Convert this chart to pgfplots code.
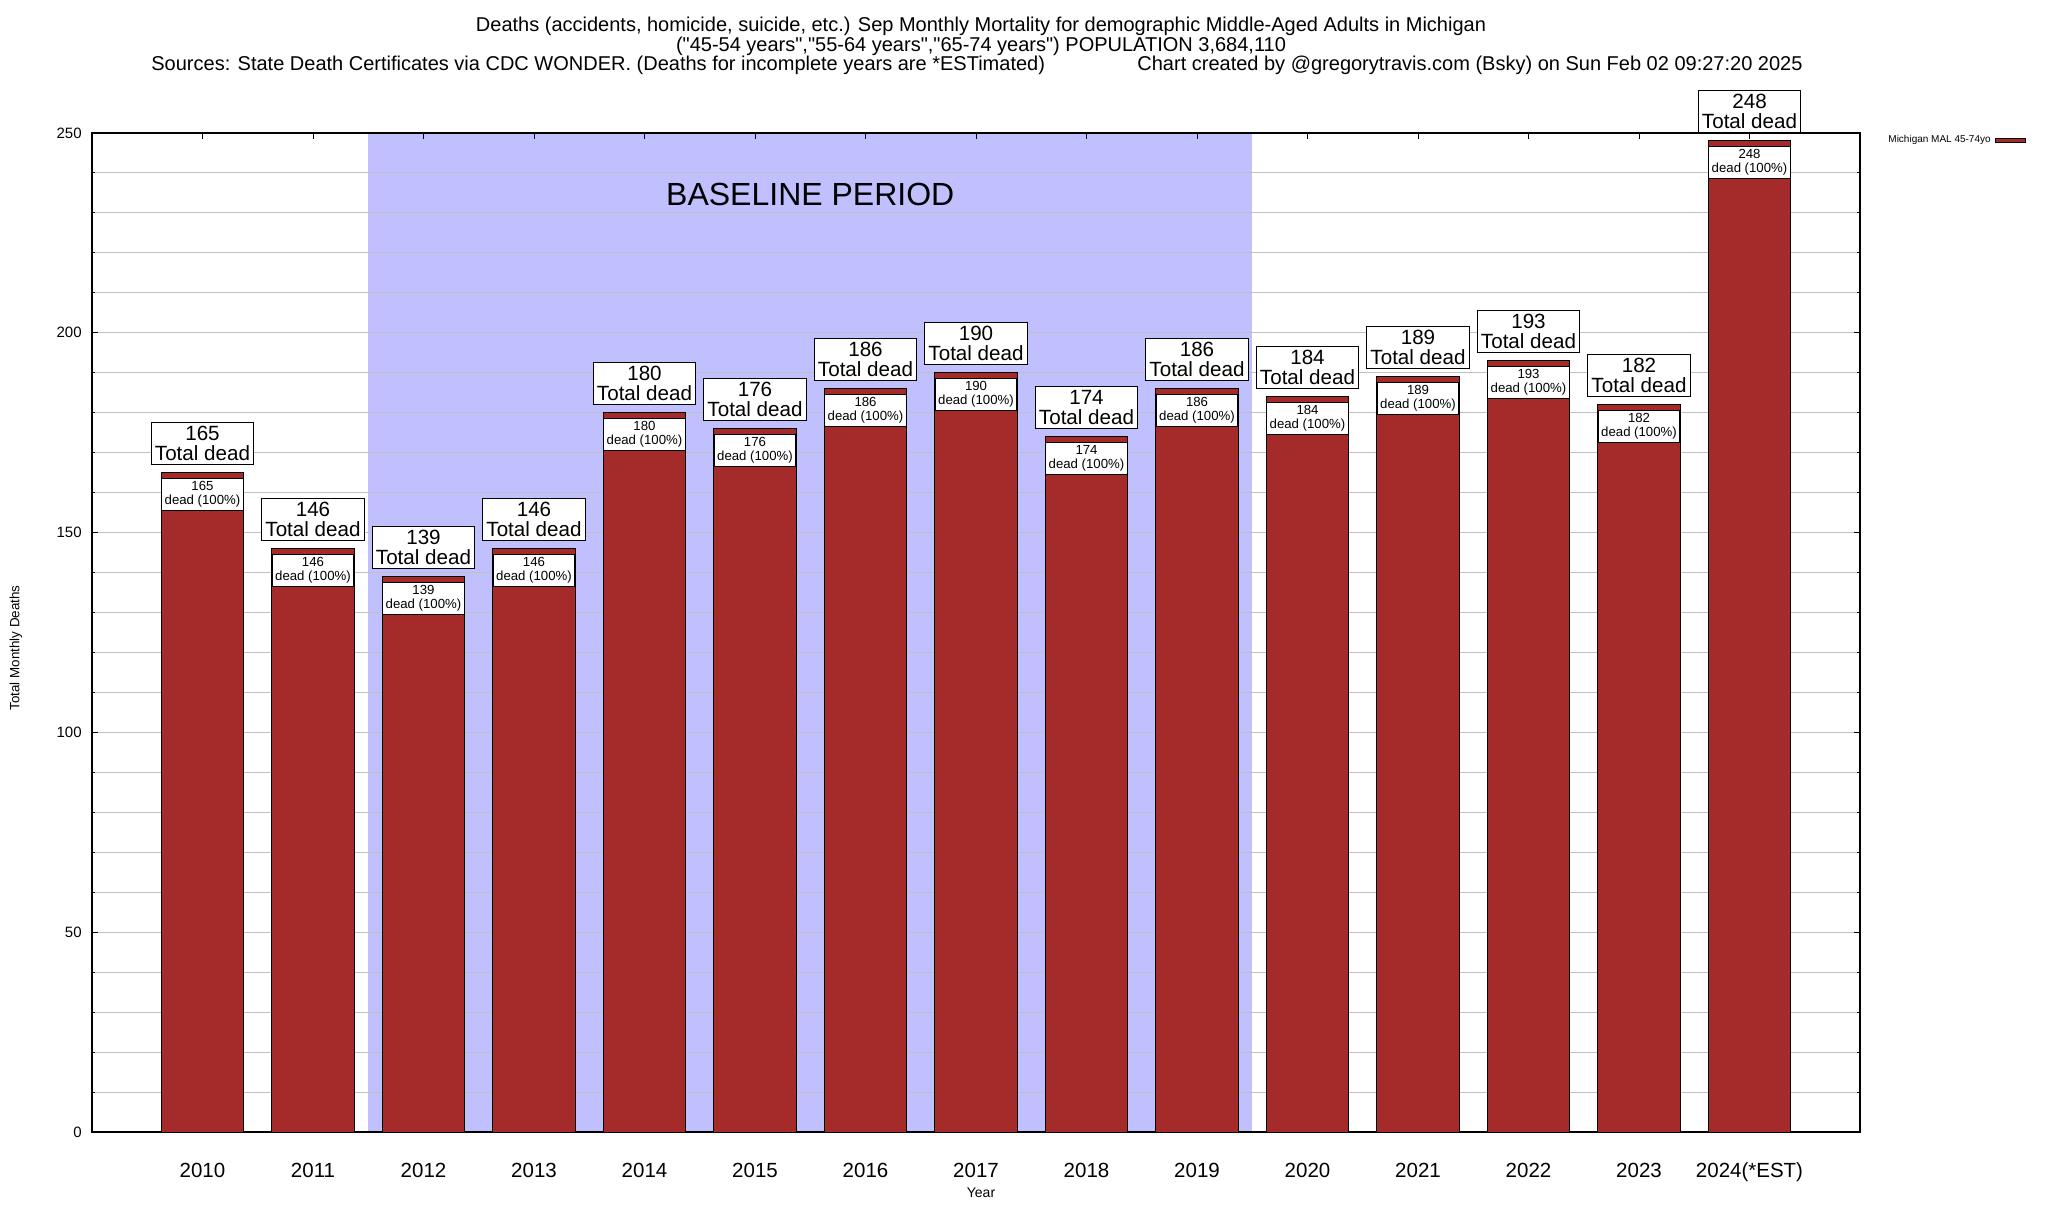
\documentclass[border=0pt]{standalone}
\usepackage{fontspec}
\setmainfont{Liberation Sans}
\usepackage{pgfplots}
\usepackage{pgfplotstable}
\pgfplotsset{compat=1.18}
\pgfkeys{/pgf/number format/assume math mode=true}
\definecolor{barred}{HTML}{A52A2A}
\definecolor{baseshade}{HTML}{C0C0FF}
\definecolor{gridgray}{HTML}{C0C0C0}

\pgfplotstableread{
x y
0 165
1 146
2 139
3 146
4 180
5 176
6 186
7 190
8 174
9 186
10 184
11 189
12 193
13 182
14 248
}\deaths

\begin{document}
\begin{tikzpicture}
\path (0,0) rectangle (1024pt,600pt);
\node[anchor=base, inner sep=0pt, font=\fontsize{10}{11}\selectfont] at (490.5pt,584pt) {Deaths (accidents, homicide, suicide, etc.) Sep Monthly Mortality for demographic Middle-Aged Adults in Michigan};
\node[anchor=base, inner sep=0pt, font=\fontsize{10}{11}\selectfont] at (490.5pt,574.25pt) {(\textquotedbl45-54 years\textquotedbl,\textquotedbl55-64 years\textquotedbl,\textquotedbl65-74 years\textquotedbl) POPULATION 3,684,110};
\node[anchor=base west, inner sep=0pt, font=\fontsize{10}{11}\selectfont] at (75.5pt,564.5pt) {Sources: State Death Certificates via CDC WONDER. (Deaths for incomplete years are *ESTimated)};
\node[anchor=base west, inner sep=0pt, font=\fontsize{10}{11}\selectfont] at (568.5pt,564.5pt) {Chart created by @gregorytravis.com (Bsky) on Sun Feb 02 09:27:20 2025};
\begin{axis}[
  at={(46pt,34pt)}, anchor=south west,
  scale only axis, width=884pt, height=499.5pt,
  set layers, clip=false,
  xmin=-1, xmax=15, ymin=0, ymax=250,
  xtick={0,...,14},
  xticklabels={2010,2011,2012,2013,2014,2015,2016,2017,2018,2019,2020,2021,2022,2023,2024(*EST)},
  ytick={0,50,...,250},
  minor ytick={10,20,...,240},
  ymajorgrids, yminorgrids,
  major grid style={gridgray, line width=0.5pt},
  minor grid style={gridgray, line width=0.5pt},
  tick align=inside, tick pos=both,
  major tick length=3pt, minor tick length=1.5pt,
  tick style={black, line width=0.5pt},
  axis line style={black, line width=0.6pt},
  xticklabel style={font=\fontsize{10.25}{12}\selectfont, anchor=base, yshift=-22.6pt, inner sep=0pt},
  yticklabel style={font=\fontsize{7.5}{9}\selectfont, anchor=east, inner sep=0pt, xshift=-5pt},
  legend style={draw=none, fill=none, at={(1,1)}, anchor=north west, xshift=12pt, yshift=1pt,
    font=\fontsize{5}{6}\selectfont, inner sep=0pt},
  legend plot pos=right,
  legend cell align=right,
]
\addplot[fill=baseshade, draw=none, on layer=axis background, forget plot] coordinates {(1.5,250) (9.5,250)} \closedcycle;
\addplot[ybar, bar width=0.75, bar shift=0pt, fill=barred, draw=black, line width=0.5pt,
  legend image code/.code={\draw[fill=barred, draw=black, line width=0.5pt] (0pt,-1pt) rectangle (15pt,1pt);}]
  table[x=x, y=y] {\deaths};
\addlegendentry{Michigan MAL 45-74yo}
\addplot[draw=none, mark=none, forget plot,
  nodes near coords={\pgfmathprintnumber{\pgfplotspointmeta}\\Total dead},
  every node near coord/.append style={anchor=south, yshift=4pt, draw=black, fill=white, line width=0.5pt,
    align=center, font=\fontsize{10.3}{10}\selectfont, inner sep=1.75pt}]
  table[x=x, y=y] {\deaths};
\addplot[draw=none, mark=none, forget plot,
  nodes near coords={\pgfmathprintnumber{\pgfplotspointmeta}\\dead (100\%)},
  every node near coord/.append style={anchor=north, yshift=-2.5pt, draw=black, fill=white, line width=0.5pt,
    align=center, font=\fontsize{6.6}{7.2}\selectfont, inner sep=1.4pt}]
  table[x=x, y=y] {\deaths};
\node[font=\fontsize{16}{18}\selectfont] at (axis cs:5.5,234.7) {BASELINE PERIOD};
\end{axis}
\node[rotate=90, font=\fontsize{6.7}{8}\selectfont] at (8pt,276pt) {Total Monthly Deaths};
\node[font=\fontsize{7}{8}\selectfont] at (490.5pt,3.5pt) {Year};
\end{tikzpicture}
\end{document}
